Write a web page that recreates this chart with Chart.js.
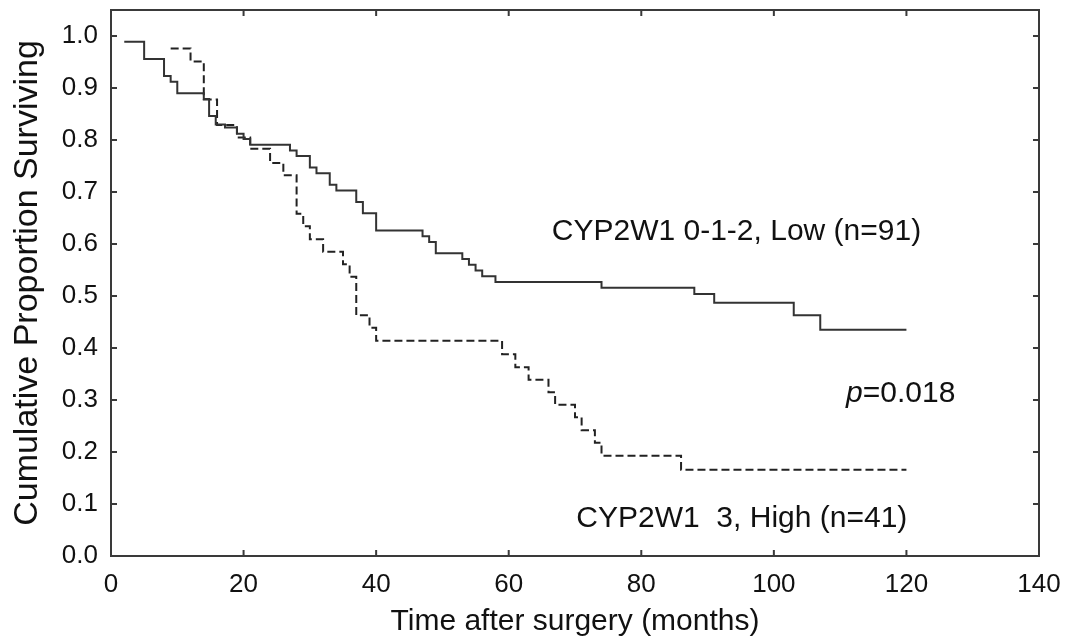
<!DOCTYPE html>
<html>
<head>
<meta charset="utf-8">
<script src="https://cdn.jsdelivr.net/npm/chart.js@4.4.0/dist/chart.umd.min.js"></script>
<style>
  html, body { margin: 0; padding: 0; background: #fff; }
  #wrap { width: 1068px; height: 643px; }
</style>
</head>
<body>
<div id="wrap"><canvas id="survivalChart"></canvas></div>
<script>
// Kaplan-Meier steps (months, proportion surviving)
const lowTimes = [2, 5, 8, 9, 10, 14, 14.8, 15.8, 17.2, 19, 20, 21, 27, 28, 30, 31, 33, 34, 37, 38, 40, 47, 48, 49, 53, 54, 55, 56, 58, 74, 88, 91, 103, 107, 120];
const lowSurv = [0.989, 0.956, 0.923, 0.912, 0.890, 0.879, 0.846, 0.830, 0.824, 0.812, 0.802, 0.791, 0.780, 0.769, 0.747, 0.736, 0.714, 0.703, 0.681, 0.659, 0.626, 0.615, 0.604, 0.582, 0.571, 0.560, 0.549, 0.538, 0.527, 0.516, 0.504, 0.487, 0.463, 0.435, 0.435];

const highTimes = [9, 12, 14, 16, 19, 21, 24, 26, 28, 29, 30, 32, 35, 36, 37, 39, 40, 59, 61, 63, 66, 67, 70, 71, 73, 74, 86, 120];
const highSurv = [0.976, 0.951, 0.878, 0.829, 0.805, 0.783, 0.756, 0.732, 0.658, 0.634, 0.609, 0.585, 0.561, 0.537, 0.463, 0.439, 0.414, 0.388, 0.363, 0.339, 0.315, 0.291, 0.267, 0.242, 0.218, 0.193, 0.166, 0.166];

const xTickValues = [0, 20, 40, 60, 80, 100, 120, 140];
const yTickValues = [0, 0.1, 0.2, 0.3, 0.4, 0.5, 0.6, 0.7, 0.8, 0.9, 1.0];

const lowLabel = "CYP2W1 0-1-2, Low (n=91)";
const highLabel = "CYP2W1  3, High (n=41)";
const pValue = "0.018";

const FONT = "'Liberation Sans', Arial, Helvetica, sans-serif";

function toPoints(xs, ys) {
    return xs.map((x, i) => ({ x: x, y: ys[i] }));
}

// box around the plot, inward tick marks on all sides, and the text notes
const framePlugin = {
    id: 'frame',
    afterDraw(chart) {
        const ctx = chart.ctx;
        const a = chart.chartArea;
        const xs = chart.scales.x;
        const ys = chart.scales.y;
        const tl = 6;
        ctx.save();
        ctx.strokeStyle = '#3a3a3a';
        ctx.lineWidth = 2;
        ctx.strokeRect(a.left, a.top, a.right - a.left, a.bottom - a.top);
        ctx.beginPath();
        xTickValues.forEach(v => {
            const px = xs.getPixelForValue(v);
            ctx.moveTo(px, a.bottom); ctx.lineTo(px, a.bottom - tl);
            ctx.moveTo(px, a.top); ctx.lineTo(px, a.top + tl);
        });
        yTickValues.forEach(v => {
            const py = ys.getPixelForValue(v);
            ctx.moveTo(a.left, py); ctx.lineTo(a.left + tl, py);
            ctx.moveTo(a.right, py); ctx.lineTo(a.right - tl, py);
        });
        ctx.stroke();

        ctx.fillStyle = '#111';
        ctx.textAlign = 'left';
        ctx.textBaseline = 'alphabetic';
        ctx.font = '30px ' + FONT;
        ctx.fillText(lowLabel, xs.getPixelForValue(66.5), ys.getPixelForValue(0.607));
        ctx.fillText(highLabel, xs.getPixelForValue(70.2), ys.getPixelForValue(0.056));

        let px = xs.getPixelForValue(110.9);
        const py = ys.getPixelForValue(0.296);
        ctx.font = 'italic 30px ' + FONT;
        ctx.fillText('p', px, py);
        px += ctx.measureText('p').width;
        ctx.font = '30px ' + FONT;
        ctx.fillText('=' + pValue, px, py);
        ctx.restore();
    }
};

const ctx = document.getElementById('survivalChart').getContext('2d');
new Chart(ctx, {
    type: 'line',
    data: {
        datasets: [{
            label: lowLabel,
            data: toPoints(lowTimes, lowSurv),
            borderColor: '#333333',
            borderWidth: 2,
            stepped: 'before',
            pointRadius: 0,
            fill: false
        }, {
            label: highLabel,
            data: toPoints(highTimes, highSurv),
            borderColor: '#222222',
            borderWidth: 2,
            borderDash: [8, 4],
            stepped: 'before',
            pointRadius: 0,
            fill: false
        }]
    },
    options: {
        responsive: true,
        maintainAspectRatio: false,
        animation: false,
        layout: { padding: { top: 10, right: 29, left: 0, bottom: 0 } },
        plugins: {
            legend: { display: false },
            tooltip: { enabled: false }
        },
        scales: {
            x: {
                type: 'linear',
                min: 0,
                max: 140,
                afterBuildTicks: s => { s.ticks = xTickValues.map(v => ({ value: v })); },
                afterFit: s => {
                    s.height = 87;
                    s.paddingLeft = 0;
                    s.paddingRight = 0;
                },
                grid: { display: false, drawTicks: false },
                border: { display: false },
                ticks: {
                    color: '#111',
                    font: { family: FONT, size: 26 },
                    padding: 13,
                    maxRotation: 0,
                    callback: v => String(v)
                },
                title: {
                    display: true,
                    text: 'Time after surgery (months)',
                    color: '#111',
                    font: { family: FONT, size: 30 },
                    padding: { top: 0, bottom: 3 }
                }
            },
            y: {
                min: 0,
                max: 1.05,
                afterBuildTicks: s => { s.ticks = yTickValues.map(v => ({ value: v })); },
                afterFit: s => {
                    s.width = 111;
                    s.paddingTop = 0;
                    s.paddingBottom = 0;
                },
                grid: { display: false, drawTicks: false },
                border: { display: false },
                ticks: {
                    color: '#111',
                    font: { family: FONT, size: 26 },
                    padding: 13,
                    callback: v => v.toFixed(1)
                },
                title: {
                    display: true,
                    text: 'Cumulative Proportion Surviving',
                    color: '#111',
                    font: { family: FONT, size: 34 },
                    padding: { top: 7, bottom: 0 }
                }
            }
        }
    },
    plugins: [framePlugin]
});
</script>
</body>
</html>
